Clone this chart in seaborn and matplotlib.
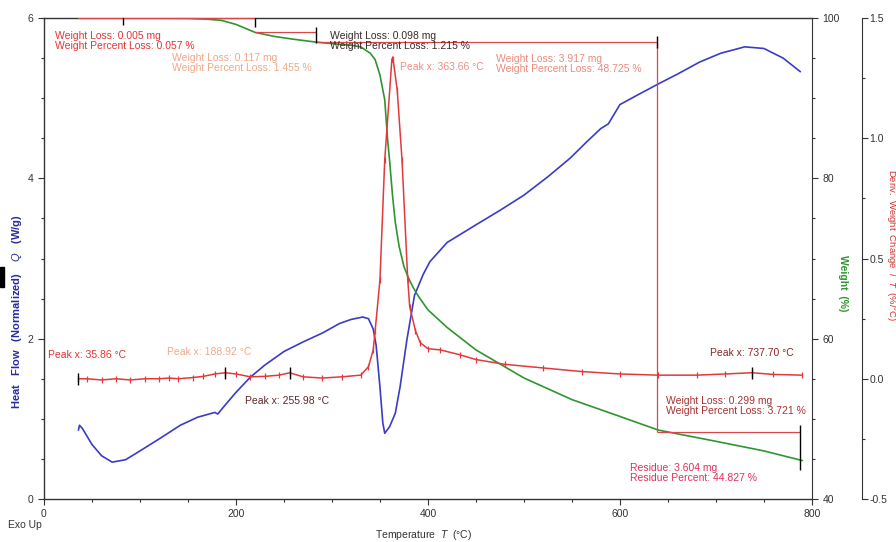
import matplotlib
matplotlib.use("Agg")
import matplotlib.pyplot as plt
import seaborn as sns
import pandas as pd
from matplotlib.ticker import MultipleLocator
from matplotlib.patches import Rectangle

# ---------------------------
# Data
# ---------------------------
# heat flow (blue, left axis, W/g)
hf_temp = [35.86, 37, 40, 50, 60, 71, 85, 100, 120, 142, 160, 178, 181, 190, 200,
           215, 230, 250, 270, 290, 308, 320, 332, 338, 343, 346, 350, 353, 355,
           360, 366, 371, 378, 386, 395, 402, 420, 450, 475, 500, 525, 548, 565,
           580, 588, 600, 620, 642, 660, 683, 705, 730, 750, 770, 788]
hf_value = [0.86, 0.92, 0.88, 0.68, 0.54, 0.46, 0.49, 0.60, 0.75, 0.92, 1.02, 1.08,
            1.06, 1.19, 1.33, 1.52, 1.67, 1.84, 1.96, 2.07, 2.19, 2.24, 2.27, 2.25,
            2.12, 1.92, 1.40, 0.95, 0.82, 0.90, 1.07, 1.40, 1.98, 2.54, 2.80, 2.96,
            3.20, 3.42, 3.60, 3.79, 4.02, 4.25, 4.45, 4.62, 4.68, 4.92, 5.05, 5.19,
            5.30, 5.45, 5.56, 5.64, 5.62, 5.50, 5.33]

# weight (green, right axis, %)
wt_temp = [35.86, 100, 150, 170, 185, 200, 220, 240, 260, 283, 300, 320, 330, 340,
           345, 350, 355, 358, 360, 363, 366, 370, 375, 380, 385, 390, 400, 420,
           450, 500, 550, 600, 640, 700, 750, 790]
wt_value = [100.0, 100.0, 99.95, 99.85, 99.7, 99.2, 98.2, 97.7, 97.35, 97.0, 96.8,
            96.6, 96.4, 95.6, 94.8, 92.9, 89.8, 84.8, 82.3, 78.0, 74.5, 71.5, 69.0,
            67.5, 66.3, 65.3, 63.6, 61.4, 58.6, 55.1, 52.4, 50.3, 48.6, 47.2, 46.0,
            44.8]

# derivative weight (red, far right axis, %/°C)
dtg_temp = [35.86, 45, 60, 75, 90, 105, 120, 130, 140, 155, 166, 178, 189, 200, 215,
            230, 245, 256, 270, 290, 310, 330, 338, 343, 345, 350, 355, 362.5, 363.66,
            368, 373, 379, 381, 387, 392, 400, 413, 433, 450, 480, 520, 560, 600,
            640, 680, 710, 737.7, 760, 790]
dtg_value = [0.0, 0.0, -0.005, 0.0, -0.005, 0.0, 0.0, 0.003, 0.0, 0.005, 0.01, 0.02,
             0.025, 0.02, 0.008, 0.01, 0.015, 0.025, 0.008, 0.003, 0.008, 0.015, 0.05,
             0.12, 0.2, 0.41, 0.91, 1.33, 1.33, 1.2, 0.91, 0.41, 0.3, 0.2, 0.15,
             0.125, 0.12, 0.10, 0.08, 0.06, 0.045, 0.03, 0.02, 0.015, 0.015, 0.02,
             0.025, 0.018, 0.015]

# peak markers (black ticks on the derivative curve)
peak_temp = [35.86, 188.92, 255.98, 737.70]
peak_value = [0.0, 0.025, 0.025, 0.025]

# weight-step analysis lines
step_start = [35.86, 220.0, 283.0, 639.0]
step_end = [220.0, 283.0, 639.0, 788.0]
step_level = [100.0, 98.25, 97.0, 48.4]
step_tick_temp = [82.0, 220.0, 283.0, 639.0, 788.0]
step_tick_low = [99.1, 98.9, 96.9, 96.3, 43.6]
step_tick_high = [100.4, 100.4, 98.9, 97.8, 49.2]

hf_df = pd.DataFrame({"T": hf_temp, "Q": hf_value})
wt_df = pd.DataFrame({"T": wt_temp, "W": wt_value})
dtg_df = pd.DataFrame({"T": dtg_temp, "D": dtg_value})

sns.set_style("ticks")
plt.rcParams["font.family"] = ["Liberation Sans", "DejaVu Sans"]
plt.rcParams["mathtext.fontset"] = "custom"
plt.rcParams["mathtext.it"] = "Liberation Sans:italic"

blue = "#3b3bc8"
green = "#2f952f"
red = "#e2393c"
axis_col = "#333333"
fs = 7.5

fig = plt.figure(figsize=(8.96, 5.42), dpi=100)
ax = fig.add_axes([0.0491, 0.0793, 0.857, 0.8875])
ax2 = ax.twinx()
ax3 = ax.twinx()

sns.lineplot(data=hf_df, x="T", y="Q", ax=ax, color=blue, lw=1.2, sort=False)
sns.lineplot(data=wt_df, x="T", y="W", ax=ax2, color=green, lw=1.2, sort=False)
sns.lineplot(data=dtg_df, x="T", y="D", ax=ax3, color=red, lw=1.1, sort=False,
             marker="|", markersize=5, markeredgewidth=0.9, markeredgecolor=red)
ax3.plot(peak_temp, peak_value, ls="none", marker="|", ms=9, mew=1.0, color="black")

# step lines on weight axis
ax2.hlines(step_level, step_start, step_end, color="#d9474b", lw=0.9)
ax2.vlines([step_start[3]], [step_level[3]], [step_level[2]], color="#d9474b", lw=0.9)
ax2.vlines(step_tick_temp, step_tick_low, step_tick_high, color="black", lw=1.0)

# axes limits/ticks
ax.set_xlim(0, 800)
ax.set_ylim(0, 6)
ax2.set_ylim(40, 100)
ax3.set_ylim(-0.5, 1.5)
ax.xaxis.set_major_locator(MultipleLocator(200))
ax.xaxis.set_minor_locator(MultipleLocator(50))
ax.yaxis.set_major_locator(MultipleLocator(2))
ax.yaxis.set_minor_locator(MultipleLocator(0.5))
ax2.yaxis.set_major_locator(MultipleLocator(20))
ax2.yaxis.set_minor_locator(MultipleLocator(5))
ax3.yaxis.set_major_locator(MultipleLocator(0.5))
ax3.yaxis.set_minor_locator(MultipleLocator(0.25))
ax3.yaxis.set_major_formatter(matplotlib.ticker.FormatStrFormatter("%.1f"))

for a in (ax, ax2, ax3):
    a.set_xlabel("")
    a.set_ylabel("")
    a.tick_params(which="both", colors=axis_col, labelsize=fs, direction="out")
    a.tick_params(which="major", length=4, width=0.8)
    a.tick_params(which="minor", length=2.5, width=0.8)
ax3.tick_params(which="major", pad=1.5)

for s in ("left", "bottom", "top"):
    ax.spines[s].set_color(axis_col)
    ax.spines[s].set_linewidth(1.0)
ax.spines["right"].set_visible(False)
for s in ("left", "bottom", "top"):
    ax2.spines[s].set_visible(False)
    ax3.spines[s].set_visible(False)
ax2.spines["right"].set_color(axis_col)
ax3.spines["right"].set_position(("axes", 1.065))
ax3.spines["right"].set_color(axis_col)

# axis titles
fig.text(17 / 896, 1 - 312 / 542, "Heat   Flow   (Normalized)    $Q$   (W/g)", color="#2a2aa0",
         fontsize=8, fontweight="bold", rotation=90, ha="center", va="center")
fig.text(843 / 896, 1 - 283 / 542, "Weight  (%)", color=green, fontsize=fs,
         fontweight="bold", rotation=270, ha="center", va="center")
fig.text(891 / 896, 1 - 245 / 542, "Deriv.  Weight  Change  /  $T$  (%/°C)", color="#d03030",
         fontsize=6.8, rotation=270, ha="center", va="center")
fig.text(424 / 896, 1 - 535 / 542, "Temperature  $T$  (°C)", color=axis_col, fontsize=fs,
         ha="center", va="center")
fig.text(8 / 896, 1 - 525 / 542, "Exo Up", color=axis_col, fontsize=fs, ha="left", va="center")
fig.patches.append(Rectangle((0, 1 - 287 / 542), 3.5 / 896, 20 / 542,
                             transform=fig.transFigure, color="black"))


# annotation texts (positions in pixels of the 896x542 figure)
def note(px, py, s, color):
    fig.text(px / 896, 1 - py / 542, s, color=color, fontsize=fs, ha="left", va="center",
             linespacing=1.05)


note(55, 41, "Weight Loss: 0.005 mg\nWeight Percent Loss: 0.057 %", "#e03535")
note(172, 63, "Weight Loss: 0.117 mg\nWeight Percent Loss: 1.455 %", "#f0a888")
note(330, 41, "Weight Loss: 0.098 mg\nWeight Percent Loss: 1.215 %", "#3a2a2a")
note(400, 67, "Peak x: 363.66 °C", "#ee8f80")
note(496, 64, "Weight Loss: 3.917 mg\nWeight Percent Loss: 48.725 %", "#ea8a7c")
note(48, 355, "Peak x: 35.86 °C", "#e03535")
note(167, 352, "Peak x: 188.92 °C", "#f0a888")
note(245, 401, "Peak x: 255.98 °C", "#5a2a2a")
note(710, 353, "Peak x: 737.70 °C", "#8a2525")
note(666, 406, "Weight Loss: 0.299 mg\nWeight Percent Loss: 3.721 %", "#a83232")
note(630, 473, "Residue: 3.604 mg\nResidue Percent: 44.827 %", "#e0305a")

fig.savefig("out.png", dpi=100)
